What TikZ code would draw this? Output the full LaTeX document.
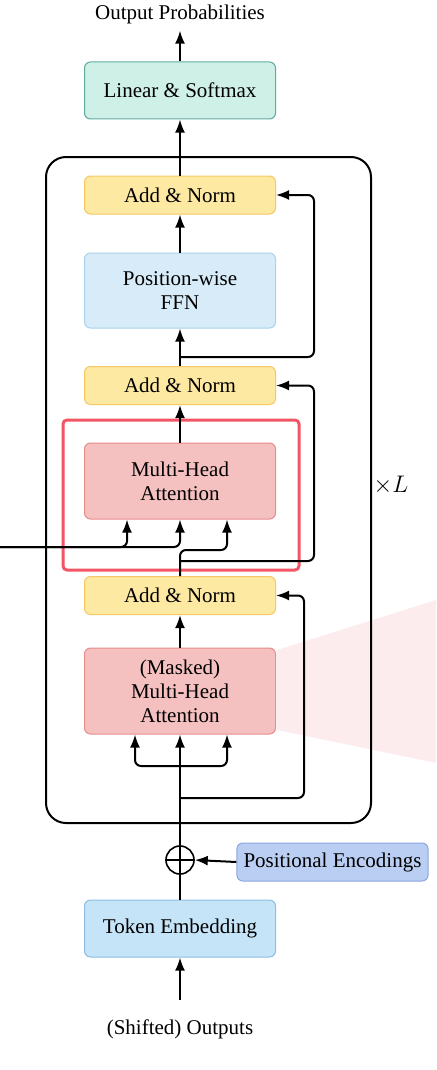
\documentclass[tikz,border=0pt]{standalone}
\usepackage{fontspec}
\setmainfont{Liberation Serif}
\usetikzlibrary{arrows.meta}

\definecolor{linfill}{RGB}{207,240,230}
\definecolor{linline}{RGB}{95,170,160}
\definecolor{addfill}{RGB}{253,233,162}
\definecolor{addline}{RGB}{245,200,100}
\definecolor{ffnfill}{RGB}{215,236,248}
\definecolor{ffnline}{RGB}{170,210,235}
\definecolor{attfill}{RGB}{245,192,192}
\definecolor{attline}{RGB}{232,140,140}
\definecolor{posfill}{RGB}{186,205,242}
\definecolor{posline}{RGB}{140,165,225}
\definecolor{embfill}{RGB}{197,228,248}
\definecolor{embline}{RGB}{140,190,225}
\definecolor{hlred}{RGB}{242,85,99}
\definecolor{wedgepink}{RGB}{252,236,238}

\tikzset{
	box/.style={draw, line width=0.5pt, rounded corners=3pt, minimum width=95.5pt,
		align=center, font=\fontsize{10.5}{12}\selectfont},
	addbox/.style={box, fill=addfill, draw=addline, minimum height=19pt},
	arr/.style={-{Latex[length=6.5pt,width=5pt]}, line width=1pt},
	wire/.style={line width=1pt},
	lbl/.style={font=\fontsize{10.5}{12}\selectfont}
}

\begin{document}
\begin{tikzpicture}[x=0.5pt,y=-0.5pt]
	\useasboundingbox (0,0) rectangle (436,1070);
	\fill[wedgepink] (277,650) -- (436,600) -- (436,763) -- (277,730) -- cycle;
	% decoder stack
	\node[lbl] (outp) at (180,14) {Output Probabilities};
	\node[box, fill=linfill, draw=linline, minimum height=28.5pt] (lin) at (180,90.5) {Linear \& Softmax};
	\node[addbox] (an1) at (180,195) {Add \& Norm};
	\node[box, fill=ffnfill, draw=ffnline, minimum height=37.5pt] (ffn) at (180,290.5) {Position-wise\\FFN};
	\node[addbox] (an2) at (180,385.5) {Add \& Norm};
	\node[box, fill=attfill, draw=attline, minimum height=38pt] (mha) at (180,481) {Multi-Head\\Attention};
	\node[addbox] (an3) at (180,595.5) {Add \& Norm};
	\node[box, fill=attfill, draw=attline, minimum height=43pt] (mmha) at (180,691) {(Masked)\\Multi-Head\\Attention};
	\node[draw, circle, line width=0.8pt, minimum size=14pt, inner sep=0pt] (plus) at (180,860) {};
	\node[box, fill=posfill, draw=posline, minimum height=19pt] (pe) at (332.5,862) {Positional Encodings};
	\node[box, fill=embfill, draw=embline, minimum height=28.5pt] (emb) at (180,928.5) {Token Embedding};
	\node[lbl] (inp) at (180,1029) {(Shifted) Outputs};
	\node[font=\fontsize{12}{14}\selectfont] (times) at (391,485) {$\times L$};
	\draw[line width=1pt, rounded corners=10pt] (46,157) rectangle (371,823);
	\draw[hlred, line width=1.5pt, rounded corners=2pt] (63,420) rectangle (299,570);
	% connectors
	\coordinate (r1) at (180,357);
	\coordinate (r2) at (180,561);
	\coordinate (r3) at (180,798);
	\coordinate (enc) at (0,547);
	\coordinate (mb) at (180,766);
	\draw[arr] (lin.north) -- (outp.south);
	\draw[arr] (an1.north) -- (lin.south);
	\draw[arr] (ffn.north) -- (an1.south);
	\draw[arr] (an2.north) -- (ffn.south);
	\draw[arr] (mha.north) -- (an2.south);
	\draw[arr] (mmha.north) -- (an3.south);
	\draw[arr, rounded corners=3pt] (r1) -- (314,357) |- (an1.east);
	\draw[arr, rounded corners=3pt] (r2) -- (314,561) |- (an2.east);
	\draw[arr, rounded corners=3pt] (r3) -- (304,798) |- (an3.east);
	\draw[arr, rounded corners=3pt] (an3.north) |- (227,550) -- ([xshift=23.5pt]mha.south);
	\draw[arr, rounded corners=3pt] (enc) -| ([xshift=-26.5pt]mha.south);
	\draw[arr, rounded corners=3pt] (enc) -| (mha.south);
	\draw[arr] (plus.north) -- (mmha.south);
	\draw[arr, rounded corners=3pt] (mb) -| ([xshift=-22.5pt]mmha.south);
	\draw[arr, rounded corners=3pt] (mb) -| ([xshift=23.5pt]mmha.south);
	\draw[wire] (plus.west) -- (plus.east);
	\draw[wire] (emb.north) -- (plus.north);
	\draw[arr] (pe.west) -- (plus.east);
	\draw[arr, shorten <=6pt] (inp.north) -- (emb.south);
\end{tikzpicture}
\end{document}
